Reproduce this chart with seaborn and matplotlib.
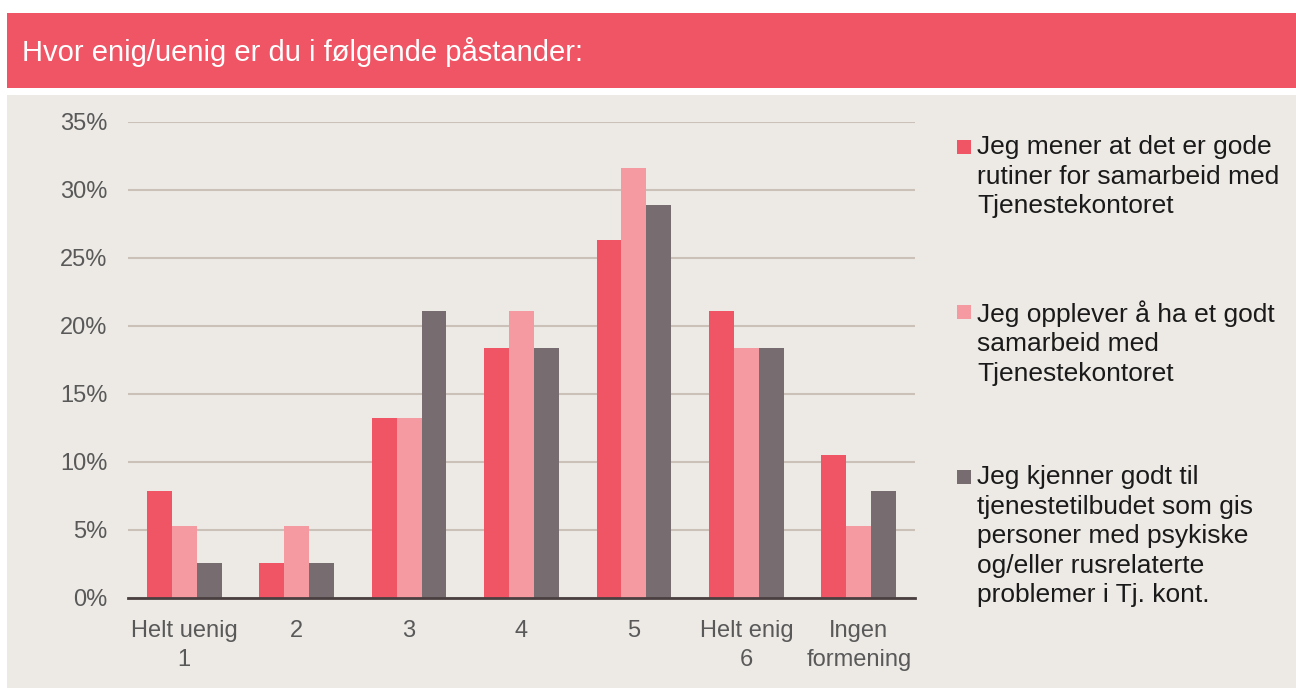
import pandas as pd
import seaborn as sns
import matplotlib.pyplot as plt
from matplotlib.patches import Rectangle

# Data
categories = ["Helt uenig\n1", "2", "3", "4", "5", "Helt enig\n6", "Ingen\nformening"]
series_names = [
    "Jeg mener at det er gode\nrutiner for samarbeid med\nTjenestekontoret",
    "Jeg opplever å ha et godt\nsamarbeid med\nTjenestekontoret",
    "Jeg kjenner godt til\ntjenestetilbudet som gis\npersoner med psykiske\nog/eller rusrelaterte\nproblemer i Tj. kont.",
]
rutiner = [7.9, 2.6, 13.2, 18.4, 26.3, 21.1, 10.5]
samarbeid = [5.3, 5.3, 13.2, 21.1, 31.6, 18.4, 5.3]
kjenner = [2.6, 2.6, 21.1, 18.4, 28.9, 18.4, 7.9]
yticks = [0, 5, 10, 15, 20, 25, 30, 35]
title = "Hvor enig/uenig er du i følgende påstander:"

colors = ["#F05566", "#F59AA1", "#776D71"]
bg = "#EDEAE5"

rows = []
for name, vals in zip(series_names, [rutiner, samarbeid, kjenner]):
    for cat, v in zip(categories, vals):
        rows.append({"kategori": cat, "serie": name, "andel": v})
df = pd.DataFrame(rows)

sns.set_style("white")
plt.rcParams['font.family'] = ['Liberation Sans', 'DejaVu Sans']

W, H = 1296, 688
fig = plt.figure(figsize=(W / 100, H / 100), dpi=100)
fig.patch.set_facecolor("white")

# banner and panel (behind the axes)
fig.patches.append(Rectangle((7 / W, 1 - 88 / H), 1, 75 / H, transform=fig.transFigure,
                             facecolor="#F05565", edgecolor="none", zorder=-10))
fig.patches.append(Rectangle((7 / W, 0), 1, 1 - 95 / H, transform=fig.transFigure,
                             facecolor=bg, edgecolor="none", zorder=-10))
fig.text(22 / W, 1 - 52 / H, title, color="white", fontsize=21, va="center", ha="left")

ax = fig.add_axes([128 / W, 1 - 598 / H, (915 - 128) / W, (598 - 122) / H])
ax.set_facecolor(bg)
sns.barplot(data=df, x="kategori", y="andel", hue="serie", palette=colors,
            width=0.665, gap=0, saturation=1, linewidth=0, ax=ax, legend=False, zorder=3)

ax.set_ylim(0, 35)
ax.set_yticks(yticks)
ax.set_yticklabels([f"{t}%" for t in yticks])
ax.set_xlim(-0.5, len(categories) - 0.5)
ax.grid(axis="y", color="#CBC1B9", linewidth=1.5, zorder=0)
ax.set_axisbelow(True)
for s in ["top", "right", "left"]:
    ax.spines[s].set_visible(False)
ax.spines["bottom"].set_color("#4A3F40")
ax.spines["bottom"].set_linewidth(2)
ax.spines["bottom"].set_zorder(5)
ax.tick_params(axis="both", length=0, labelsize=17, labelcolor="#595959")
ax.tick_params(axis="y", pad=15)
ax.tick_params(axis="x", pad=16)
plt.setp(ax.get_xticklabels(), linespacing=1.4)
ax.set_xlabel("")
ax.set_ylabel("")

# legend drawn by hand so the marker sits on the first line
tops = [135, 300, 465]
for name, c, t in zip(series_names, colors, tops):
    fig.patches.append(Rectangle((957 / W, 1 - (t + 19) / H), 14 / W, 14 / H,
                                 transform=fig.transFigure, facecolor=c, edgecolor="none"))
    fig.text(977 / W, 1 - t / H, name, fontsize=19, color="#1a1a1a", va="top",
             ha="left", linespacing=1.29)

fig.savefig("out.png", dpi=100, facecolor=fig.get_facecolor())
